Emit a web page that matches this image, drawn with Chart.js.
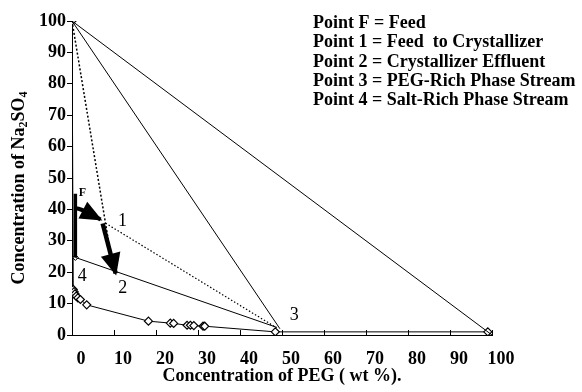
<!DOCTYPE html>
<html><head><meta charset="utf-8">
<script src="https://cdn.jsdelivr.net/npm/chart.js@4/dist/chart.umd.min.js"></script>
<style>html,body{margin:0;padding:0;background:#fff}#wrap{width:582px;height:392px}</style>
</head><body><div id="wrap"><canvas id="c" width="582" height="392"></canvas></div>
<script>
// ---- data (PEG wt %, Na2SO4 wt %) ----
const xTickValues = [0,10,20,30,40,50,60,70,80,90,100];
const yTickValues = [0,10,20,30,40,50,60,70,80,90,100];

const binodalPEG = [0, 0.3, 0.5, 0.7, 1.0, 1.4, 2.0, 3.5, 18.2, 23.4, 24.2, 27.4, 28.2, 29.0, 31.2, 31.6, 48.4, 99];
const binodalNa  = [100, 14.5, 13.8, 13.1, 12.4, 11.8, 11.3, 9.6, 4.4, 3.8, 3.7, 3.1, 3.1, 3.0, 2.8, 2.8, 1.0, 1.0];

const tieTopRightPEG = [0, 100];
const tieTopRightNa  = [100, 0];
const tieTopP3PEG = [0, 49.5];
const tieTopP3Na  = [100, 2.0];
const tieP4P3PEG = [0.8, 48.8];
const tieP4P3Na  = [24.7, 2.4];
const dotTopP2PEG = [0, 9.6];
const dotTopP2Na  = [100, 22.5];
const dotP1P3PEG = [8.0, 48.6];
const dotP1P3Na  = [35.6, 2.4];

const feedLinePEG = [0.8, 0.8];
const feedLineNa  = [45, 24.7];
const p4MarkerPEG = [0.8];
const p4MarkerNa  = [24.7];

const arrowFto1PEG = [0.8, 2.8, 6.8];
const arrowFto1Na  = [40.5, 39.6, 36.8];
const arrow1to2PEG = [7.3, 10.4];
const arrow1to2Na  = [35.5, 19.6];

const pointLabelText = ['F', '1', '2', '3', '4'];
const pointLabelPEG  = [0.8, 8.0, 10.4, 48.4, 0.8];
const pointLabelNa   = [45, 35.6, 19.6, 1.0, 24.7];

const legendLines = [
  'Point F = Feed',
  'Point 1 = Feed  to Crystallizer',
  'Point 2 = Crystallizer Effluent',
  'Point 3 = PEG-Rich Phase Stream',
  'Point 4 = Salt-Rich Phase Stream'
];

const xTitle = 'Concentration of PEG ( wt %).';
const yTitleParts = [['Concentration of Na', false], ['2', true], ['SO', false], ['4', true]];

// ---- helpers ----
const zip = (xs, ys) => xs.map((x, i) => ({x: x, y: ys[i]}));
const SERIF = '"Liberation Serif", "Times New Roman", serif';

function lineDs(xs, ys, extra) {
  return Object.assign({
    data: zip(xs, ys), showLine: true, borderColor: '#000', backgroundColor: '#000',
    borderWidth: 1, pointRadius: 0, pointHoverRadius: 0, fill: false, tension: 0
  }, extra || {});
}

const labelOffsets = {F: [7, -1], '1': [17, -2], '2': [7, 15], '3': [19, -17], '4': [7, 19]};

const annotPlugin = {
  id: 'annot',
  afterDatasetsDraw(chart) {
    const ctx = chart.ctx;
    const xs = chart.scales.x, ys = chart.scales.y;
    ctx.save();
    // arrowheads
    chart.data.datasets.forEach((ds, i) => {
      if (!ds.arrowHead) return;
      const meta = chart.getDatasetMeta(i);
      const pts = meta.data;
      const tip = pts[pts.length - 1], prev = pts[pts.length - 2];
      const dx = tip.x - prev.x, dy = tip.y - prev.y;
      const len = Math.hypot(dx, dy), ux = dx / len, uy = dy / len;
      const L = ds.arrowHead.length, W = ds.arrowHead.width / 2;
      const bx = tip.x - ux * L, by = tip.y - uy * L;
      ctx.beginPath();
      ctx.moveTo(tip.x + ux * 2, tip.y + uy * 2);
      ctx.lineTo(bx - uy * W, by + ux * W);
      ctx.lineTo(bx + uy * W, by - ux * W);
      ctx.closePath();
      ctx.fillStyle = '#000';
      ctx.fill();
    });
    // point labels
    ctx.fillStyle = '#000';
    ctx.textAlign = 'center';
    ctx.textBaseline = 'middle';
    pointLabelText.forEach((t, i) => {
      const px = xs.getPixelForValue(pointLabelPEG[i]);
      const py = ys.getPixelForValue(pointLabelNa[i]);
      const off = labelOffsets[t];
      ctx.font = t === 'F' ? 'bold 12px ' + SERIF : '18px ' + SERIF;
      ctx.fillText(t, px + off[0], py + off[1]);
    });
    // inward x tick marks
    ctx.strokeStyle = '#000';
    ctx.lineWidth = 1;
    xTickValues.forEach(v => {
      const px = Math.round(xs.getPixelForValue(v)) + 0.5;
      ctx.beginPath();
      ctx.moveTo(px, xs.top - 5);
      ctx.lineTo(px, xs.top + 1);
      ctx.stroke();
    });
    ctx.restore();
  },
  afterDraw(chart) {
    const ctx = chart.ctx;
    const area = chart.chartArea;
    ctx.save();
    ctx.fillStyle = '#000';
    // legend text block
    ctx.font = 'bold 18px ' + SERIF;
    ctx.textAlign = 'left';
    ctx.textBaseline = 'alphabetic';
    legendLines.forEach((t, i) => ctx.fillText(t, area.left + 241, 28 + i * 19.3));
    // y axis title with subscripts
    const big = 'bold 18px ' + SERIF, small = 'bold 12px ' + SERIF;
    let total = 0;
    yTitleParts.forEach(p => { ctx.font = p[1] ? small : big; total += ctx.measureText(p[0]).width; });
    const cx = 18, cy = (area.top + area.bottom) / 2 + 10;
    ctx.translate(cx, cy);
    ctx.rotate(-Math.PI / 2);
    let x = -total / 2;
    yTitleParts.forEach(p => {
      ctx.font = p[1] ? small : big;
      ctx.fillText(p[0], x, p[1] ? 9 : 6);
      x += ctx.measureText(p[0]).width;
    });
    ctx.restore();
  }
};

new Chart(document.getElementById('c'), {
  type: 'scatter',
  data: {
    datasets: [
      lineDs(tieTopRightPEG, tieTopRightNa),
      lineDs(tieTopP3PEG, tieTopP3Na),
      lineDs(tieP4P3PEG, tieP4P3Na),
      lineDs(dotTopP2PEG, dotTopP2Na, {borderWidth: 1.5, borderDash: [2, 2]}),
      lineDs(dotP1P3PEG, dotP1P3Na, {borderWidth: 1.2, borderDash: [1.5, 2]}),
      lineDs(feedLinePEG, feedLineNa, {borderWidth: 3.5}),
      lineDs(arrowFto1PEG, arrowFto1Na, {borderWidth: 4, tension: 0.4, arrowHead: {length: 20, width: 19}}),
      lineDs(arrow1to2PEG, arrow1to2Na, {borderWidth: 4.5, arrowHead: {length: 20, width: 20}}),
      lineDs(binodalPEG, binodalNa, {pointRadius: 4, pointStyle: 'rectRot', pointBackgroundColor: '#fff', pointBorderColor: '#000', pointBorderWidth: 1.2}),
      lineDs(p4MarkerPEG, p4MarkerNa, {showLine: false, pointRadius: 3, pointStyle: 'rectRot', pointBackgroundColor: '#fff', pointBorderColor: '#000', pointBorderWidth: 1})
    ]
  },
  options: {
    responsive: false, animation: false, devicePixelRatio: 1,
    layout: {padding: {left: 0, right: 90, top: 21, bottom: 0}},
    plugins: {legend: {display: false}, tooltip: {enabled: false}},
    scales: {
      x: {
        type: 'linear', min: 0, max: 100,
        afterBuildTicks: s => { s.ticks = xTickValues.map(v => ({value: v})); },
        afterFit: s => { s.height = 57; },
        grid: {display: false, drawTicks: false, tickLength: 0},
        border: {display: true, color: '#000', width: 1},
        ticks: {color: '#000', font: {family: SERIF, size: 18, weight: 'bold'}, padding: 14, labelOffset: 9, maxRotation: 0, autoSkip: false},
        title: {display: true, text: xTitle, color: '#000', font: {family: SERIF, size: 18, weight: 'bold'}, padding: {top: 0, bottom: 5}}
      },
      y: {
        type: 'linear', min: 0, max: 100,
        afterBuildTicks: s => { s.ticks = yTickValues.map(v => ({value: v})); },
        afterFit: s => { s.width = 72; },
        grid: {display: true, drawOnChartArea: false, drawTicks: true, tickLength: 5, color: '#000'},
        border: {display: true, color: '#000', width: 1},
        ticks: {color: '#000', font: {family: SERIF, size: 18, weight: 'bold'}, padding: 1, autoSkip: false}
      }
    }
  },
  plugins: [annotPlugin]
});
</script></body></html>
